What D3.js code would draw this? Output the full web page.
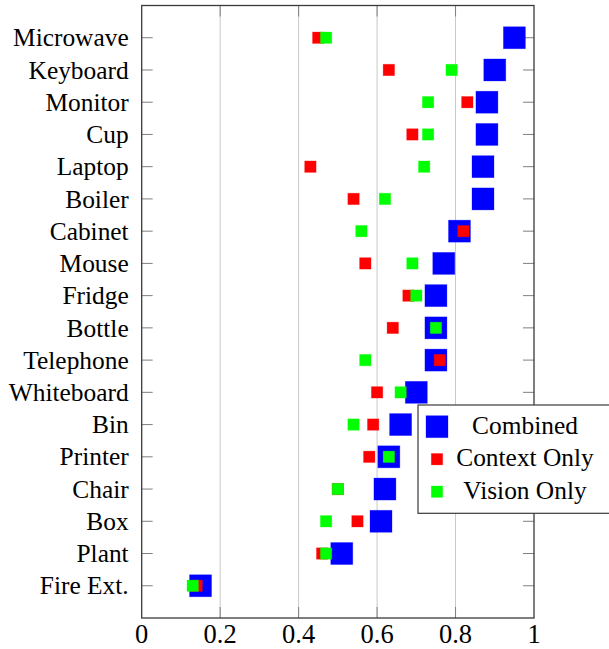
<!DOCTYPE html>
<html><head><meta charset="utf-8">
<script src="https://cdn.jsdelivr.net/npm/d3@7"></script>
<style>html,body{margin:0;padding:0;background:#fff;} svg{display:block;}</style>
</head><body>
<svg id="chart" width="609" height="649"></svg>
<script>
const categories = ["Microwave","Keyboard","Monitor","Cup","Laptop","Boiler","Cabinet","Mouse","Fridge","Bottle","Telephone","Whiteboard","Bin","Printer","Chair","Box","Plant","Fire Ext."];
const combined = [0.95,0.90,0.88,0.88,0.87,0.87,0.81,0.77,0.75,0.75,0.75,0.70,0.66,0.63,0.62,0.61,0.51,0.15];
const contextOnly = [0.45,0.63,0.83,0.69,0.43,0.54,0.82,0.57,0.68,0.64,0.76,0.60,0.59,0.58,0.50,0.55,0.46,0.14];
const visionOnly = [0.47,0.79,0.73,0.73,0.72,0.62,0.56,0.69,0.70,0.75,0.57,0.66,0.54,0.63,0.50,0.47,0.47,0.13];
const xTicks = [0,0.2,0.4,0.6,0.8,1];
const xTickLabels = ["0","0.2","0.4","0.6","0.8","1"];
const seriesNames = ["Combined","Context Only","Vision Only"];
const seriesColors = ["#0000ff","#ff0000","#00ff00"];

const svg = d3.select("#chart");
const L = 141.7, R = 534, T = 5.5, B = 618;
const x = d3.scaleLinear().domain([0,1]).range([L,R]);
const y = d3.scalePoint().domain(categories).range([T,B]).padding(1);
const font = "Liberation Serif";

// grid
svg.append("g").selectAll("line").data(xTicks.slice(1,-1)).join("line")
  .attr("x1",d=>x(d)).attr("x2",d=>x(d)).attr("y1",T).attr("y2",B)
  .attr("stroke","#c8c8c8").attr("stroke-width",1);

// ticks (inside, top/bottom and left/right)
const tk = svg.append("g").attr("stroke","#7f7f7f").attr("stroke-width",1);
xTicks.slice(1,-1).forEach(d=>{
  tk.append("line").attr("x1",x(d)).attr("x2",x(d)).attr("y1",B).attr("y2",B-11);
  tk.append("line").attr("x1",x(d)).attr("x2",x(d)).attr("y1",T).attr("y2",T+11);
});
categories.forEach(c=>{
  tk.append("line").attr("x1",L).attr("x2",L+11).attr("y1",y(c)).attr("y2",y(c));
  tk.append("line").attr("x1",R).attr("x2",R-11).attr("y1",y(c)).attr("y2",y(c));
});

// frame
svg.append("rect").attr("x",L).attr("y",T).attr("width",R-L).attr("height",B-T)
  .attr("fill","none").attr("stroke","#3a3a3a").attr("stroke-width",1.3);

// y labels
svg.append("g").selectAll("text").data(categories).join("text")
  .attr("x",L-13).attr("y",d=>y(d)).attr("dy","0.34em")
  .attr("text-anchor","end").style("font-family",font).style("font-size","25.4px")
  .attr("fill","#000").text(d=>d);

// x labels
svg.append("g").selectAll("text").data(xTicks).join("text")
  .attr("x",d=>x(d)).attr("y",643).attr("text-anchor","middle")
  .style("font-family",font).style("font-size","26.5px").attr("fill","#000")
  .text((d,i)=>xTickLabels[i]);

// marks
function drawSeries(vals,color,size){
  svg.append("g").selectAll("rect").data(vals).join("rect")
    .attr("x",d=>x(d)-size/2).attr("y",(d,i)=>y(categories[i])-size/2)
    .attr("width",size).attr("height",size).attr("fill",color)
    .attr("stroke",color).attr("stroke-opacity",0.35).attr("stroke-width",0.8);
}
drawSeries(combined,seriesColors[0],22);
drawSeries(contextOnly,seriesColors[1],11.4);
drawSeries(visionOnly,seriesColors[2],11.4);

// legend
const lg = svg.append("g");
lg.append("rect").attr("x",418).attr("y",405).attr("width",220).attr("height",108.3)
  .attr("fill","#fff").attr("stroke","#3a3a3a").attr("stroke-width",1.2);
const legY = [426.7,459.2,491.7];
const legSize = [22,11.4,11.4];
seriesNames.forEach((n,i)=>{
  lg.append("rect").attr("x",437-legSize[i]/2).attr("y",legY[i]-legSize[i]/2)
    .attr("width",legSize[i]).attr("height",legSize[i]).attr("fill",seriesColors[i])
    .attr("stroke",seriesColors[i]).attr("stroke-opacity",0.35).attr("stroke-width",0.8);
  lg.append("text").attr("x",525).attr("y",legY[i]).attr("dy","0.27em")
    .attr("text-anchor","middle").style("font-family",font).style("font-size","25.4px")
    .attr("fill","#000").text(n);
});
</script>
</body></html>
